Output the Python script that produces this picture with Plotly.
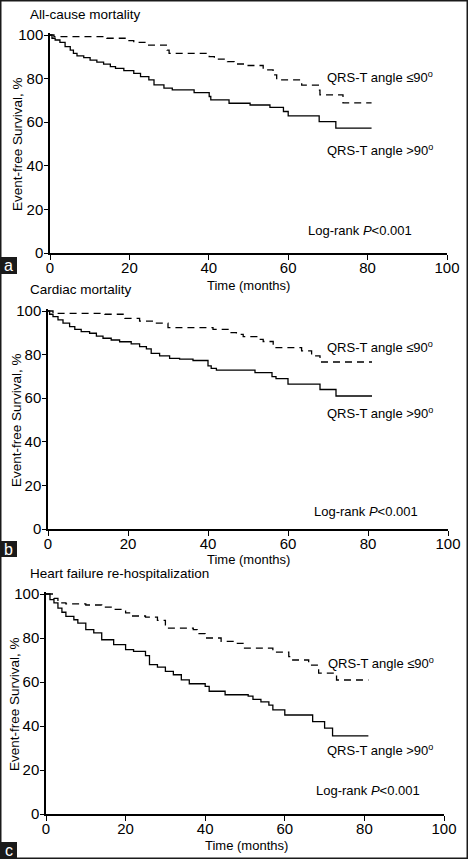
import plotly.graph_objects as go

W, H = 468, 859

# ---------------- data (months, event-free survival %) ----------------
panel_titles = ["All-cause mortality", "Cardiac mortality", "Heart failure re-hospitalization"]
panel_letters = ["a", "b", "c"]

a_le_t = [0, 1, 14.3, 19.4, 21.1, 24.5, 29.5, 30, 40.1, 41.4, 44.7, 46.4, 49.6, 53.7, 56.2, 57.1, 63.4, 67.6, 68, 73.8, 81]
a_le_v = [100, 99.3, 98.5, 97.4, 96.6, 95.4, 93.1, 91.6, 90.1, 88.9, 87.8, 86.7, 86.0, 84, 81.7, 79.4, 77, 74.7, 72.5, 68.9, 68.9]
a_gt_t = [0, 0.5, 1.3, 2.5, 3.8, 5.1, 5.9, 6.8, 8.5, 10.1, 11.8, 13.5, 15.2, 16.5, 18.6, 21.1, 22.8, 24.9, 26.2, 28.7,
          30.8, 36.3, 40.1, 40.5, 45.1, 50.4, 55.4, 58.8, 60, 67.8, 72, 81]
a_gt_v = [100, 98.5, 97.7, 96.6, 94.7, 93.1, 91.6, 90.4, 89.6, 88.5, 87.6, 86.6, 85.5, 84.7, 83.7, 82.4, 80.9, 79.4, 77.1, 75.6,
          74.8, 73.6, 71.8, 70.2, 68.7, 67.9, 66.8, 64.9, 62.9, 60.3, 57.3, 57.3]

b_le_t = [0, 1.25, 14.2, 19.2, 22.9, 26.25, 30, 41.25, 45.4, 47.1, 48.8, 52.2, 53.8, 56.3, 63.4, 65.9, 68, 81]
b_le_v = [100, 98.9, 98.5, 96.6, 95.4, 94.4, 92.4, 91.6, 90.1, 89.3, 88.2, 87, 86, 83.2, 81.7, 79.4, 76.6, 76.6]
b_gt_t = [0, 0.4, 1.25, 2.5, 3.75, 5.4, 6.7, 8.3, 10.4, 12.1, 13.75, 15.8, 17.9, 20.8, 22.9, 24.6, 25.8, 27.9, 30.4,
          32.9, 36.25, 40, 40.8, 42.1, 51.75, 56, 57, 60, 68, 72, 81]
b_gt_v = [100, 98.5, 97.4, 95.9, 94.4, 92.8, 91.6, 90.5, 89.8, 88.5, 87.5, 86.7, 85.9, 84.9, 83.7, 82.6, 80.6, 79.4, 78.3,
          77.9, 77.3, 74.8, 73.7, 72.9, 71.7, 69.9, 69, 66.5, 64, 61, 61]

c_le_t = [0, 2, 3, 5, 10, 14, 17, 20, 21, 25, 28, 30, 37, 38, 40, 44, 47, 49.5, 57, 61, 62, 66, 68.5, 73, 81]
c_le_v = [100, 98, 96, 95.5, 95, 94, 93, 91.4, 90, 89.5, 88, 84.5, 83.8, 82, 80, 78.5, 77.6, 75.4, 73.6, 71.5, 70, 67.7, 64, 60.9, 60.9]
c_gt_t = [0, 1, 2, 3, 4, 5, 7, 8, 10, 12, 14, 17, 20, 22, 25, 26, 28, 30, 32, 34, 36, 40, 41, 45, 50.8, 52, 54, 56, 57,
          60, 67, 70, 72, 81]
c_gt_v = [100, 97.4, 96, 93.6, 91.7, 89.8, 88.3, 86.8, 83.8, 82.3, 79.2, 77, 74.7, 73.9, 72, 67.9, 66.8, 64.8, 63.3, 61,
          59.2, 58, 55.8, 54.2, 53.6, 52.1, 51, 49.5, 47.3, 45, 42, 39, 35.5, 35.5]

x_ticks = [0, 20, 40, 60, 80, 100]
y_ticks = [0, 20, 40, 60, 80, 100]

series = [
    (a_le_t, a_le_v, a_gt_t, a_gt_v),
    (b_le_t, b_le_v, b_gt_t, b_gt_v),
    (c_le_t, c_le_v, c_gt_t, c_gt_v),
]

# ---------------- layout geometry (pixels) ----------------
# (x0px, x100px, y0px, y100px)
geom = [
    (50, 447, 253, 35),
    (48, 448, 529, 311),
    (46, 444, 814, 594),
]
YTOP = 101.0

FONT = "Arial, Liberation Sans, sans-serif"

fig = go.Figure()
layout = dict(
    width=W, height=H, margin=dict(l=0, r=0, t=0, b=0, autoexpand=False),
    paper_bgcolor="white", plot_bgcolor="white", showlegend=False,
    font=dict(family=FONT, color="black"),
)
shapes = []
annotations = []

# annotation placements per panel (data coords): le label, gt label, log-rank
ann_pos = [
    dict(le=(83, 80.7), gt=(83, 47.2), lr=(78.2, 10.1)),
    dict(le=(83, 83.5), gt=(83, 53.2), lr=(79.5, 7.8)),
    dict(le=(84.2, 68.6), gt=(84, 29.1), lr=(81, 10.9)),
]
title_y_px = [14, 289, 573]
ytitle_x_px = [17, 16, 14]
xtitle_px = [(248, 285), (248, 559), (246, 845)]
letter_box_px = [(257, 274), (541, 557), (842, 858)]

for i in range(3):
    x0p, x100p, y0p, y100p = geom[i]
    sfx = "" if i == 0 else str(i + 1)
    ppu = (y0p - y100p) / 100.0
    ytop_px = y0p - ppu * YTOP
    xdom = [x0p / W, x100p / W]
    ydom = [1 - y0p / H, 1 - ytop_px / H]
    layout["xaxis" + sfx] = dict(
        domain=xdom, range=[0, 100], anchor="y" + sfx, automargin=False,
        showline=True, linecolor="black", linewidth=1.5, mirror=False,
        ticks="outside", ticklen=5, tickwidth=1.3, tickcolor="black",
        tickvals=x_ticks, ticktext=[str(v) for v in x_ticks],
        showgrid=False, zeroline=False, ticklabelstandoff=-5,
        tickfont=dict(size=15, family=FONT, color="black"),
    )
    layout["yaxis" + sfx] = dict(
        domain=ydom, range=[0, YTOP], anchor="x" + sfx, automargin=False,
        showline=True, linecolor="black", linewidth=1.5,
        ticks="outside", ticklen=4, tickwidth=1.3, tickcolor="black",
        tickvals=y_ticks, ticktext=[str(v) for v in y_ticks],
        showgrid=False, zeroline=False, ticklabelstandoff=-2,
        tickfont=dict(size=15, family=FONT, color="black"),
    )
    le_t, le_v, gt_t, gt_v = series[i]
    fig.add_trace(go.Scatter(x=le_t, y=le_v, mode="lines", line_shape="hv",
                             line=dict(color="black", width=1.3, dash="7px,5px"),
                             xaxis="x" + sfx, yaxis="y" + sfx, hoverinfo="skip"))
    fig.add_trace(go.Scatter(x=gt_t, y=gt_v, mode="lines", line_shape="hv",
                             line=dict(color="black", width=1.3),
                             xaxis="x" + sfx, yaxis="y" + sfx, hoverinfo="skip"))

    ap = ann_pos[i]
    for key, txt in (("le", "QRS-T angle ≤90<sup>o</sup>"), ("gt", "QRS-T angle >90<sup>o</sup>"),
                     ("lr", "Log-rank <i>P</i>&lt;0.001")):
        annotations.append(dict(x=ap[key][0], y=ap[key][1], xref="x" + sfx, yref="y" + sfx,
                                text=txt, showarrow=False, xanchor="center", yanchor="middle",
                                font=dict(size=13, family=FONT, color="black")))
    # panel title
    annotations.append(dict(x=28 / W, y=1 - title_y_px[i] / H, xref="paper", yref="paper",
                            text=panel_titles[i], showarrow=False, xanchor="left", yanchor="middle",
                            font=dict(size=13.5, family=FONT, color="black")))
    # y axis title
    ymid_px = (y0p + y100p) / 2
    annotations.append(dict(x=ytitle_x_px[i] / W, y=1 - ymid_px / H, xref="paper", yref="paper",
                            text="Event-free Survival, %", textangle=-90, showarrow=False,
                            xanchor="center", yanchor="middle",
                            font=dict(size=13.5, family=FONT, color="black")))
    # x axis title
    annotations.append(dict(x=xtitle_px[i][0] / W, y=1 - xtitle_px[i][1] / H, xref="paper", yref="paper",
                            text="Time (months)", showarrow=False, xanchor="center", yanchor="middle",
                            font=dict(size=13, family=FONT, color="black")))
    # panel letter box
    yb0, yb1 = letter_box_px[i]
    shapes.append(dict(type="rect", xref="paper", yref="paper", x0=0, x1=17 / W,
                       y0=1 - yb1 / H, y1=1 - yb0 / H, fillcolor="#1a1a1a", line=dict(width=0), layer="above"))
    annotations.append(dict(x=8.5 / W, y=1 - (yb0 + yb1) / 2 / H, xref="paper", yref="paper",
                            text=panel_letters[i], showarrow=False, xanchor="center", yanchor="middle",
                            font=dict(size=16, family=FONT, color="white")))

# outer frame
shapes.append(dict(type="rect", xref="paper", yref="paper", x0=0, x1=1, y0=0, y1=1,
                   line=dict(color="#1a1a1a", width=3), fillcolor="rgba(0,0,0,0)", layer="above"))

layout["shapes"] = shapes
layout["annotations"] = annotations
fig.update_layout(**layout)
fig.write_html("out.html", config={"responsive": False, "displayModeBar": False},
               post_script="document.body.style.margin='0';document.body.style.overflow='hidden';")
